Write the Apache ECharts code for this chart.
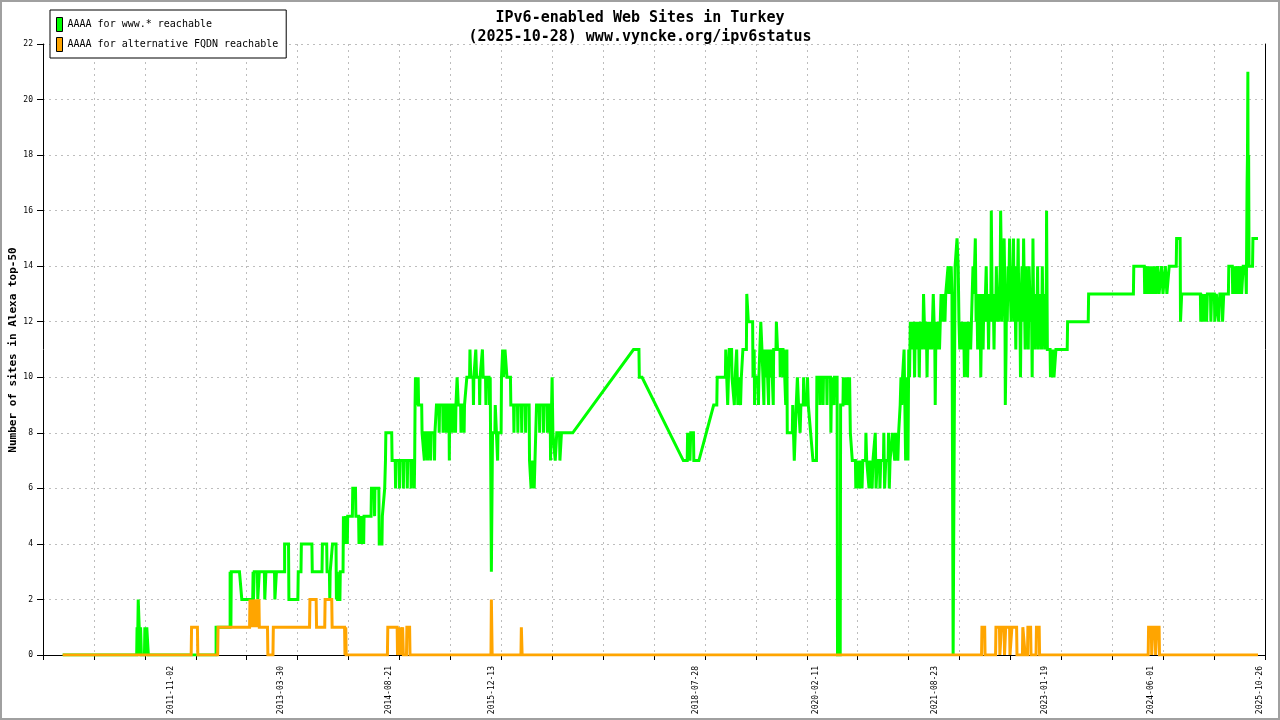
<!DOCTYPE html>
<html><head><meta charset="utf-8">
<script src="https://cdn.jsdelivr.net/npm/echarts@6/dist/echarts.min.js"></script>
<style>html,body{margin:0;padding:0;background:#fff}#c{width:1280px;height:720px}</style>
</head><body><div id="c"></div>
<script>
// ---- data (x = decimal year, y = number of sites) ----
const titleLines = ["IPv6-enabled Web Sites in Turkey", "(2025-10-28) www.vyncke.org/ipv6status"];
const seriesNames = ["AAAA for www.* reachable", "AAAA for alternative FQDN reachable"];
const yAxisName = "Number of sites in Alexa top-50";
const xTickLabels = ["2011-11-02","2013-03-30","2014-08-21","2015-12-13","2018-07-28","2020-02-11","2021-08-23","2023-01-19","2024-06-01","2025-10-26"];
const xRange = [2010.187, 2025.88];
const xDivisions = 24;
const yRange = [0, 22];
const yStep = 2;

const wwwData = [
[2010.44,0],
[2011.39,0],[2011.395,1],[2011.40,0],[2011.41,2],[2011.43,2],[2011.435,0],[2011.44,1],[2011.45,0],
[2011.49,0],[2011.495,1],[2011.51,1],[2011.515,0],[2011.52,1],[2011.535,1],[2011.54,0],
[2012.41,0],[2012.41,1],
[2012.59,1],[2012.59,3],[2012.60,1],[2012.605,3],[2012.71,3],[2012.74,2],
[2012.88,2],[2012.885,3],[2012.89,2],[2012.90,3],
[2012.94,3],[2012.945,2],[2012.96,2],[2012.965,3],
[2013.03,3],[2013.035,2],[2013.045,2],[2013.05,3],
[2013.16,3],[2013.165,2],[2013.18,2],[2013.185,3],
[2013.29,3],[2013.29,4],[2013.34,4],[2013.345,2],
[2013.46,2],[2013.465,3],[2013.50,3],[2013.505,4],
[2013.64,4],[2013.645,3],[2013.77,3],[2013.775,4],[2013.83,4],[2013.835,3],[2013.865,3],[2013.87,2],[2013.875,3],[2013.90,3],[2013.905,4],[2013.95,4],[2013.955,2],[2013.965,3],[2013.97,2],
[2014.00,2],[2014.005,3],[2014.04,3],[2014.045,5],
[2014.06,5],[2014.065,4],[2014.07,5],[2014.09,5],[2014.095,4],[2014.10,5],[2014.16,5],[2014.165,6],[2014.20,6],[2014.205,5],[2014.24,5],[2014.245,4],[2014.25,5],[2014.27,5],[2014.275,4],[2014.28,5],[2014.30,5],[2014.305,4],[2014.31,5],[2014.40,5],[2014.405,6],[2014.44,6],[2014.445,5],[2014.45,6],[2014.50,6],[2014.505,4],[2014.54,4],[2014.545,5],[2014.57,5],[2014.575,6],[2014.585,7],[2014.59,8],[2014.665,8],[2014.67,7],
[2014.71,7],[2014.715,6],[2014.72,7],[2014.76,7],[2014.765,6],[2014.77,7],[2014.81,7],[2014.815,6],[2014.82,7],[2014.86,7],[2014.865,6],[2014.87,7],[2014.91,7],[2014.915,6],[2014.92,7],[2014.95,7],[2014.955,6],[2014.96,7],[2014.965,9],[2014.97,10],[2014.985,10],[2014.99,9],[2015.00,9],[2015.005,10],[2015.01,9],[2015.05,9],[2015.055,8],
[2015.08,8],[2015.085,7],[2015.09,8],[2015.12,8],[2015.125,7],[2015.13,8],[2015.16,8],[2015.165,7],[2015.17,8],[2015.21,8],[2015.215,7],[2015.22,8],[2015.235,8],[2015.24,9],
[2015.27,9],[2015.275,8],[2015.28,9],[2015.32,9],[2015.325,8],[2015.33,9],[2015.36,9],[2015.365,8],[2015.37,9],[2015.40,9],[2015.405,7],[2015.41,9],[2015.44,9],[2015.445,8],[2015.45,9],[2015.48,9],[2015.485,8],[2015.49,9],[2015.50,9],[2015.505,10],[2015.515,10],[2015.52,9],
[2015.55,9],[2015.555,8],[2015.56,9],[2015.59,9],[2015.595,8],[2015.60,9],[2015.625,9],[2015.63,10],
[2015.665,10],[2015.67,11],[2015.68,10],[2015.71,10],[2015.715,9],[2015.72,10],[2015.74,10],[2015.745,11],[2015.755,10],[2015.79,10],[2015.795,9],[2015.80,10],[2015.825,10],[2015.83,11],[2015.84,10],[2015.87,10],[2015.875,9],[2015.88,10],[2015.915,10],[2015.92,9],[2015.93,10],
[2015.94,10],[2015.945,3],[2015.955,3],[2015.96,8],[2015.99,8],[2015.995,9],[2016.02,9],[2016.025,7],[2016.03,8],[2016.07,8],[2016.075,10],[2016.09,11],[2016.10,10],[2016.12,11],[2016.14,11],[2016.145,10],[2016.19,10],[2016.195,9],
[2016.23,9],[2016.235,8],[2016.24,9],[2016.28,9],[2016.285,8],[2016.29,9],[2016.33,9],[2016.335,8],[2016.34,9],[2016.38,9],[2016.385,8],[2016.39,9],[2016.43,9],
[2016.435,7],[2016.45,7],[2016.455,6],[2016.47,6],[2016.475,7],[2016.49,7],[2016.495,6],[2016.51,6],[2016.515,8],[2016.525,9],
[2016.56,9],[2016.565,8],[2016.57,9],[2016.61,9],[2016.615,8],[2016.62,9],[2016.66,9],[2016.665,8],[2016.67,9],[2016.70,9],[2016.705,7],[2016.72,7],[2016.725,10],[2016.735,8],[2016.76,8],[2016.765,7],[2016.78,7],[2016.785,8],[2016.82,8],[2016.825,7],[2016.84,7],[2016.845,8],
[2016.99,8],[2017.77,11],[2017.84,11],[2017.845,10],[2017.88,10],[2018.41,7],[2018.46,7],[2018.465,8],[2018.49,8],[2018.495,7],[2018.50,7],[2018.505,8],[2018.54,8],[2018.545,7],[2018.61,7],[2018.80,9],[2018.84,9],[2018.845,10],[2018.95,10],[2018.955,11],[2018.975,11],[2018.98,9],[2018.995,9],[2019.00,11],[2019.03,11],[2019.035,10],[2019.06,10],[2019.065,9],[2019.075,10],[2019.09,10],[2019.095,11],[2019.105,11],[2019.11,9],[2019.12,10],[2019.14,10],[2019.145,9],[2019.155,10],[2019.17,10],[2019.175,11],[2019.22,11],[2019.225,13],[2019.24,13],[2019.245,12],[2019.30,12],[2019.305,10],[2019.32,11],[2019.325,9],[2019.335,10],[2019.37,10],[2019.375,9],[2019.38,10],[2019.40,10],[2019.405,12],[2019.415,12],[2019.42,11],
[2019.44,11],[2019.445,9],[2019.45,11],[2019.47,11],[2019.475,10],[2019.48,11],[2019.50,11],[2019.505,9],[2019.51,11],[2019.53,11],[2019.535,10],[2019.54,11],[2019.56,11],[2019.565,9],[2019.57,11],[2019.60,11],[2019.605,12],[2019.615,12],[2019.62,11],[2019.65,11],[2019.655,10],[2019.66,11],[2019.69,11],[2019.695,10],[2019.70,11],[2019.72,11],[2019.725,9],[2019.735,9],[2019.74,11],[2019.745,8],[2019.81,8],[2019.815,9],[2019.83,9],[2019.835,7],[2019.855,7],[2019.86,9],
[2019.87,9],[2019.875,10],[2019.885,10],[2019.89,9],[2019.905,9],[2019.91,8],[2019.92,9],[2019.95,9],[2019.955,10],[2019.965,10],[2019.97,9],[2020.00,9],[2020.005,10],[2020.015,9],[2020.04,9],[2020.045,8],[2020.07,8],[2020.075,7],[2020.12,7],[2020.125,10],
[2020.16,10],[2020.165,9],[2020.17,10],[2020.20,10],[2020.205,9],[2020.21,10],[2020.25,10],[2020.255,9],[2020.26,10],[2020.30,10],[2020.305,8],[2020.315,10],[2020.34,10],[2020.345,9],[2020.35,10],[2020.385,10],[2020.39,0],[2020.425,0],[2020.43,9],
[2020.46,9],[2020.465,10],[2020.475,9],[2020.50,9],[2020.505,10],[2020.515,9],[2020.54,9],[2020.545,10],[2020.555,8],[2020.57,8],[2020.58,7],
[2020.62,7],[2020.625,6],[2020.635,7],[2020.66,7],[2020.665,6],[2020.675,7],[2020.70,7],[2020.705,6],[2020.715,7],[2020.75,7],[2020.755,8],[2020.765,7],[2020.79,7],[2020.795,6],[2020.805,7],[2020.83,7],[2020.835,6],[2020.845,7],[2020.87,7],[2020.875,8],[2020.885,6],[2020.90,7],[2020.93,7],[2020.935,6],[2020.945,7],[2020.98,7],[2020.985,8],[2020.995,6],[2021.01,7],[2021.04,7],[2021.045,8],[2021.055,6],[2021.065,7],[2021.09,7],[2021.095,8],
[2021.12,8],[2021.125,7],[2021.135,8],[2021.16,8],[2021.165,7],[2021.175,8],[2021.19,8],[2021.195,9],[2021.205,10],[2021.215,9],[2021.225,10],[2021.24,10],[2021.245,11],[2021.255,9],[2021.265,7],[2021.28,7],[2021.285,10],[2021.295,7],[2021.305,11],[2021.315,10],[2021.325,12],
[2021.34,11],[2021.35,12],[2021.36,11],[2021.37,12],[2021.38,10],[2021.39,12],[2021.40,11],[2021.41,12],[2021.42,11],[2021.43,12],[2021.44,10],[2021.45,12],[2021.46,11],[2021.47,12],[2021.48,11],[2021.49,12],[2021.495,13],[2021.505,12],[2021.52,11],[2021.53,12],[2021.54,10],[2021.55,12],[2021.56,11],[2021.57,12],[2021.58,11],[2021.59,12],[2021.60,11],[2021.61,12],[2021.62,13],[2021.63,12],[2021.64,11],[2021.645,9],[2021.655,12],[2021.66,11],[2021.67,12],[2021.68,11],[2021.69,12],[2021.70,11],[2021.71,12],[2021.72,13],[2021.73,12],[2021.74,13],[2021.75,12],[2021.76,13],[2021.77,12],[2021.78,13],[2021.79,13],
[2021.81,14],[2021.82,13],[2021.83,14],[2021.845,13],[2021.85,14],[2021.86,13],[2021.87,13],[2021.875,0],[2021.895,0],[2021.90,14],[2021.92,14],[2021.925,15],[2021.935,15],[2021.94,14],[2021.95,12],
[2021.96,11],[2021.97,12],[2021.98,11],[2021.99,12],[2022.00,11],[2022.01,12],[2022.02,10],[2022.03,12],[2022.04,11],[2022.05,12],[2022.06,10],[2022.07,12],[2022.08,11],[2022.09,12],[2022.10,11],[2022.11,12],[2022.12,13],[2022.13,14],[2022.14,13],[2022.15,14],[2022.16,15],[2022.17,12],
[2022.18,13],[2022.19,11],[2022.20,13],[2022.21,12],[2022.22,13],[2022.23,10],[2022.24,12],[2022.25,13],[2022.26,11],[2022.27,13],[2022.28,12],[2022.29,13],[2022.30,14],[2022.31,12],[2022.32,13],[2022.33,11],[2022.34,13],[2022.35,12],[2022.36,13],[2022.365,16],[2022.375,13],[2022.38,12],[2022.39,13],[2022.40,11],[2022.41,13],[2022.42,12],[2022.43,14],[2022.44,12],[2022.45,13],[2022.46,12],[2022.47,13],[2022.48,14],[2022.485,16],[2022.495,14],[2022.50,12],[2022.51,13],[2022.52,14],[2022.53,15],[2022.54,13],[2022.545,9],[2022.555,11],[2022.56,13],[2022.57,12],[2022.58,14],[2022.59,13],[2022.60,15],[2022.61,13],[2022.62,12],[2022.63,14],[2022.64,13],[2022.65,15],[2022.66,12],[2022.67,13],[2022.68,11],[2022.69,14],[2022.70,13],[2022.71,15],[2022.72,12],[2022.73,13],[2022.74,10],[2022.75,13],[2022.76,14],[2022.77,12],[2022.78,15],[2022.79,13],[2022.80,11],[2022.81,14],[2022.82,12],[2022.83,13],[2022.84,11],[2022.85,14],[2022.86,13],[2022.87,12],[2022.88,13],[2022.89,10],[2022.90,15],[2022.91,12],[2022.92,13],[2022.93,11],[2022.94,13],[2022.95,12],[2022.96,14],[2022.97,11],[2022.98,13],[2022.99,12],[2023.00,13],[2023.01,11],[2023.02,14],[2023.03,12],[2023.04,13],[2023.05,11],[2023.06,13],[2023.07,12],[2023.075,16],[2023.085,11],
[2023.12,11],[2023.125,10],[2023.135,11],[2023.14,10],[2023.16,10],[2023.165,11],[2023.17,10],[2023.19,10],[2023.195,11],[2023.34,11],[2023.345,12],[2023.61,12],[2023.615,13],
[2024.19,13],[2024.195,14],
[2024.33,14],[2024.335,13],[2024.345,14],[2024.36,13],[2024.37,14],[2024.38,13],[2024.39,14],[2024.40,13],[2024.41,14],[2024.42,13],[2024.43,14],[2024.44,13],[2024.45,14],[2024.46,13],[2024.47,14],[2024.48,13],[2024.50,14],[2024.52,13],[2024.55,14],[2024.57,13],[2024.60,14],[2024.62,13],[2024.65,14],[2024.74,14],[2024.745,15],[2024.79,15],[2024.795,12],[2024.805,12],[2024.81,13],
[2025.05,13],[2025.055,12],[2025.065,13],[2025.09,13],[2025.095,12],[2025.105,13],[2025.13,12],[2025.14,13],[2025.18,13],[2025.185,12],[2025.195,13],[2025.23,13],[2025.235,12],[2025.25,12],[2025.255,13],[2025.28,13],[2025.285,12],[2025.30,13],[2025.33,13],[2025.335,12],[2025.35,13],[2025.41,13],[2025.415,14],[2025.46,14],[2025.465,13],[2025.48,14],[2025.49,13],[2025.50,14],[2025.52,13],[2025.53,14],[2025.55,13],[2025.56,14],[2025.58,13],[2025.60,14],[2025.63,14],[2025.64,13],[2025.65,17],[2025.655,18],[2025.66,21],[2025.665,14],[2025.67,18],[2025.675,14],[2025.72,14],[2025.725,15],[2025.79,15]
];

const altData = [
[2010.44,0],[2012.09,0],[2012.095,1],[2012.17,1],[2012.175,0],
[2012.43,0],[2012.435,1],[2012.84,1],[2012.845,2],[2012.855,1],[2012.87,2],[2012.88,1],[2012.895,2],[2012.905,1],[2012.93,2],[2012.935,1],[2012.96,2],[2012.965,1],[2013.07,1],[2013.075,0],[2013.14,0],[2013.145,1],
[2013.61,1],[2013.615,2],[2013.695,2],[2013.70,1],[2013.805,1],[2013.81,2],[2013.895,2],[2013.90,1],[2014.06,1],[2014.065,0],[2014.075,1],[2014.08,0],
[2014.61,0],[2014.615,1],[2014.735,1],[2014.74,0],[2014.765,0],[2014.77,1],[2014.78,0],[2014.80,0],[2014.805,1],[2014.815,0],[2014.855,0],[2014.86,1],[2014.895,1],[2014.90,0],
[2015.94,0],[2015.945,2],[2015.955,0],
[2016.325,0],[2016.33,1],[2016.34,0],
[2022.24,0],[2022.245,1],[2022.28,1],[2022.285,0],
[2022.42,0],[2022.425,1],[2022.47,1],[2022.475,0],[2022.49,0],[2022.495,1],[2022.53,1],[2022.535,0],[2022.545,0],[2022.55,1],[2022.60,1],[2022.605,0],[2022.625,0],[2022.63,1],[2022.69,1],[2022.695,0],
[2022.765,0],[2022.77,1],[2022.795,1],[2022.80,0],[2022.83,0],[2022.835,1],[2022.87,1],[2022.875,0],
[2022.94,0],[2022.945,1],[2022.98,1],[2022.985,0],
[2024.38,0],[2024.385,1],[2024.42,1],[2024.425,0],[2024.435,0],[2024.44,1],[2024.47,1],[2024.475,0],[2024.485,0],[2024.49,1],[2024.52,1],[2024.525,0],
[2025.79,0]
];

// ---- helpers ----
function dateToYear(s) {
  const [y, m, d] = s.split('-').map(Number);
  const start = Date.UTC(y, 0, 1), end = Date.UTC(y + 1, 0, 1);
  return y + (Date.UTC(y, m - 1, d) - start) / (end - start);
}
const xTickValues = xTickLabels.map(dateToYear);
function labelFor(v) {
  let best = 0, bd = Infinity;
  xTickValues.forEach((t, i) => { const d = Math.abs(t - v); if (d < bd) { bd = d; best = i; } });
  return xTickLabels[best];
}

const mono = 'DejaVu Sans Mono';
const gridDash = { color: '#bdbdbd', type: [2, 4], width: 1 };

const chart = echarts.init(document.getElementById('c'), null, { renderer: 'canvas' });
chart.setOption({
  animation: false,
  backgroundColor: '#fff',
  title: {
    text: titleLines.join('\n'),
    left: 'center', top: 4,
    textStyle: { fontFamily: mono, fontSize: 15, fontWeight: 'bold', color: '#000', lineHeight: 19 }
  },
  legend: {
    data: seriesNames,
    orient: 'vertical',
    left: 50, top: 10,
    padding: [7, 8, 6, 6],
    itemGap: 5,
    itemWidth: 6, itemHeight: 14,
    icon: 'rect',
    itemStyle: { borderColor: '#000', borderWidth: 1 },
    backgroundColor: '#fff',
    borderColor: '#000', borderWidth: 1,
    textStyle: { fontFamily: mono, fontSize: 10, color: '#000' }
  },
  grid: { left: 43, right: 15, top: 44, bottom: 65, containLabel: false, outerBoundsMode: 'none' },
  xAxis: [
    {
      type: 'value', min: xRange[0], max: xRange[1],
      axisLine: { show: true, lineStyle: { color: '#000', width: 1 } },
      axisTick: { show: false },
      splitLine: { show: false },
      axisLabel: {
        customValues: xTickValues,
        rotate: 90, margin: 11,
        fontFamily: mono, fontSize: 8, color: '#000',
        formatter: labelFor
      }
    },
    {
      type: 'value', min: 0, max: xDivisions, interval: 1, position: 'bottom',
      axisLine: { show: false },
      axisTick: { show: true, length: 5, lineStyle: { color: '#000' } },
      axisLabel: { show: false },
      splitLine: { show: true, lineStyle: gridDash }
    }
  ],
  yAxis: [
    {
      type: 'value', min: yRange[0], max: yRange[1], interval: yStep,
      axisLine: { show: true, lineStyle: { color: '#000', width: 1 } },
      axisTick: { show: true, length: 6, lineStyle: { color: '#000' } },
      axisLabel: { fontFamily: mono, fontSize: 8, color: '#000', margin: 10 },
      splitLine: { show: true, lineStyle: gridDash }
    },
    {
      type: 'value', min: yRange[0], max: yRange[1], interval: yStep, position: 'right',
      axisLine: { show: true, lineStyle: { color: '#000', width: 1 } },
      axisTick: { show: false }, axisLabel: { show: false }, splitLine: { show: false }
    }
  ],
  series: [
    {
      name: seriesNames[0], type: 'line', data: wwwData, xAxisIndex: 0, yAxisIndex: 0,
      showSymbol: false, symbol: 'none', color: '#00ff00',
      lineStyle: { color: '#00ff00', width: 3, join: 'miter' },
      itemStyle: { color: '#00ff00' }, z: 2, silent: true, sampling: null
    },
    {
      name: seriesNames[1], type: 'line', data: altData, xAxisIndex: 0, yAxisIndex: 0,
      showSymbol: false, symbol: 'none', color: '#ffa500',
      lineStyle: { color: '#ffa500', width: 3, join: 'miter' },
      itemStyle: { color: '#ffa500' }, z: 3, silent: true, sampling: null
    }
  ],
  graphic: [
    {
      type: 'text', silent: true, x: 13, y: 350, rotation: Math.PI / 2,
      style: { text: yAxisName, align: 'center', verticalAlign: 'middle',
               fontFamily: mono, fontSize: 11, fontWeight: 'bold', fill: '#000' }
    },
    {
      type: 'rect', silent: true, z: 100,
      shape: { x: 1, y: 1, width: 1278, height: 718 },
      style: { fill: 'none', stroke: '#a0a0a0', lineWidth: 2 }
    }
  ]
});
</script></body></html>
